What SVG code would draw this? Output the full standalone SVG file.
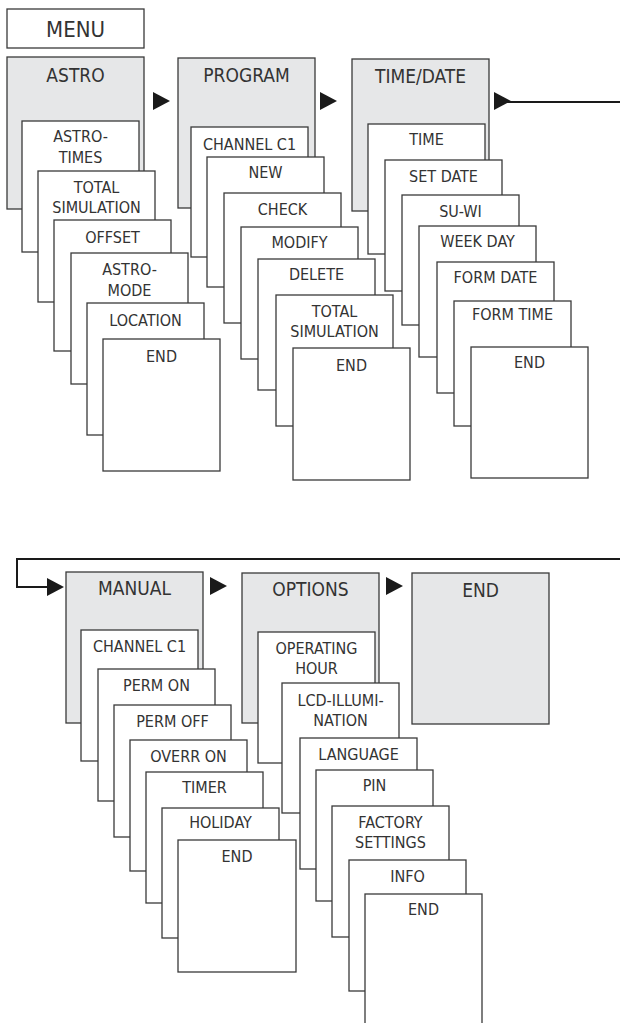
<svg xmlns="http://www.w3.org/2000/svg" width="620" height="1023" viewBox="0 0 620 1023">
<style>
.hd{fill:#e6e7e8;stroke:#3a3a3a;stroke-width:1.3}
.it{fill:#fff;stroke:#3a3a3a;stroke-width:1.3}
text{font-family:"DejaVu Sans Condensed","Liberation Sans Narrow","Liberation Sans",sans-serif;fill:#333;text-anchor:middle}
.t{font-size:16px}
.h{font-size:19px}
.m{font-size:22px}
.ln{fill:none;stroke:#1a1a1a;stroke-width:2}
.ar{fill:#1a1a1a}
</style>
<defs>
<path id="tri" d="M0,0 L17,9 L0,18 Z"/>
</defs>
<rect width="620" height="1023" fill="#fff"/>
<g id="menu"><rect class="it" x="7" y="9" width="137" height="39"/><text class="m" x="75.5" y="37">MENU</text></g>

<g id="connectors">
<use href="#tri" class="ar" x="153" y="92"/>
<use href="#tri" class="ar" x="320" y="92"/>
<use href="#tri" class="ar" x="494" y="92"/>
<path class="ln" d="M505,102 H620"/>
<path class="ln" d="M620,559 H17 V587 H52"/>
<use href="#tri" class="ar" x="47" y="578"/>
<use href="#tri" class="ar" x="210" y="577"/>
<use href="#tri" class="ar" x="386" y="577"/>
</g>

<g id="astro">
<rect class="hd" x="7" y="57" width="137" height="152"/><text class="h" x="75.5" y="82">ASTRO</text>
<g id="astro-times"><rect class="it" x="22" y="121" width="117" height="131"/><text class="t" x="80.5" y="142">ASTRO-</text><text class="t" x="80.5" y="163">TIMES</text></g>
<g id="astro-totalsim"><rect class="it" x="38" y="171" width="117" height="131"/><text class="t" x="96.5" y="193">TOTAL</text><text class="t" x="96.5" y="213">SIMULATION</text></g>
<g id="astro-offset"><rect class="it" x="54" y="220" width="117" height="131"/><text class="t" x="112.5" y="243">OFFSET</text></g>
<g id="astro-mode"><rect class="it" x="71" y="253" width="117" height="131"/><text class="t" x="129.5" y="275">ASTRO-</text><text class="t" x="129.5" y="296">MODE</text></g>
<g id="astro-location"><rect class="it" x="87" y="303" width="117" height="132"/><text class="t" x="145.5" y="326">LOCATION</text></g>
<g id="astro-end"><rect class="it" x="103" y="339" width="117" height="132"/><text class="t" x="161.5" y="362">END</text></g>
</g>

<g id="program">
<rect class="hd" x="178" y="58" width="137" height="150"/><text class="h" x="246.5" y="82">PROGRAM</text>
<g id="prog-channel"><rect class="it" x="191" y="127" width="117" height="130"/><text class="t" x="249.5" y="150">CHANNEL C1</text></g>
<g id="prog-new"><rect class="it" x="207" y="157" width="117" height="130"/><text class="t" x="265.5" y="178">NEW</text></g>
<g id="prog-check"><rect class="it" x="224" y="193" width="117" height="130"/><text class="t" x="282.5" y="215">CHECK</text></g>
<g id="prog-modify"><rect class="it" x="241" y="227" width="117" height="132"/><text class="t" x="299.5" y="248">MODIFY</text></g>
<g id="prog-delete"><rect class="it" x="258" y="259" width="117" height="131"/><text class="t" x="316.5" y="280">DELETE</text></g>
<g id="prog-totalsim"><rect class="it" x="276" y="295" width="117" height="131"/><text class="t" x="334.5" y="317">TOTAL</text><text class="t" x="334.5" y="337">SIMULATION</text></g>
<g id="prog-end"><rect class="it" x="293" y="348" width="117" height="132"/><text class="t" x="351.5" y="371">END</text></g>
</g>

<g id="timedate">
<rect class="hd" x="352" y="59" width="137" height="152"/><text class="h" x="420.5" y="83">TIME/DATE</text>
<g id="td-time"><rect class="it" x="368" y="124" width="117" height="130"/><text class="t" x="426.5" y="145">TIME</text></g>
<g id="td-setdate"><rect class="it" x="385" y="160" width="117" height="131"/><text class="t" x="443.5" y="182">SET DATE</text></g>
<g id="td-suwi"><rect class="it" x="402" y="195" width="117" height="130"/><text class="t" x="460.5" y="217">SU-WI</text></g>
<g id="td-weekday"><rect class="it" x="419" y="226" width="117" height="131"/><text class="t" x="477.5" y="247">WEEK DAY</text></g>
<g id="td-formdate"><rect class="it" x="437" y="262" width="117" height="131"/><text class="t" x="495.5" y="283">FORM DATE</text></g>
<g id="td-formtime"><rect class="it" x="454" y="301" width="117" height="125"/><text class="t" x="512.5" y="320">FORM TIME</text></g>
<g id="td-end"><rect class="it" x="471" y="347" width="117" height="131"/><text class="t" x="529.5" y="368">END</text></g>
</g>

<g id="manual">
<rect class="hd" x="66" y="572" width="137" height="151"/><text class="h" x="134.5" y="595">MANUAL</text>
<g id="man-channel"><rect class="it" x="81" y="630" width="117" height="131"/><text class="t" x="139.5" y="652">CHANNEL C1</text></g>
<g id="man-permon"><rect class="it" x="98" y="669" width="117" height="132"/><text class="t" x="156.5" y="691">PERM ON</text></g>
<g id="man-permoff"><rect class="it" x="114" y="705" width="117" height="132"/><text class="t" x="172.5" y="727">PERM OFF</text></g>
<g id="man-overr"><rect class="it" x="130" y="740" width="117" height="131"/><text class="t" x="188.5" y="762">OVERR ON</text></g>
<g id="man-timer"><rect class="it" x="146" y="772" width="117" height="131"/><text class="t" x="204.5" y="793">TIMER</text></g>
<g id="man-holiday"><rect class="it" x="162" y="808" width="117" height="130"/><text class="t" x="220.5" y="828">HOLIDAY</text></g>
<g id="man-end"><rect class="it" x="178" y="840" width="118" height="132"/><text class="t" x="237" y="862">END</text></g>
</g>

<g id="options">
<rect class="hd" x="242" y="573" width="137" height="150"/><text class="h" x="310.5" y="596">OPTIONS</text>
<g id="opt-operating"><rect class="it" x="258" y="632" width="117" height="131"/><text class="t" x="316.5" y="654">OPERATING</text><text class="t" x="316.5" y="674">HOUR</text></g>
<g id="opt-lcd"><rect class="it" x="282" y="683" width="117" height="130"/><text class="t" x="340.5" y="706">LCD-ILLUMI-</text><text class="t" x="340.5" y="726">NATION</text></g>
<g id="opt-language"><rect class="it" x="300" y="738" width="117" height="131"/><text class="t" x="358.5" y="760">LANGUAGE</text></g>
<g id="opt-pin"><rect class="it" x="316" y="770" width="117" height="131"/><text class="t" x="374.5" y="791">PIN</text></g>
<g id="opt-factory"><rect class="it" x="332" y="806" width="117" height="131"/><text class="t" x="390.5" y="828">FACTORY</text><text class="t" x="390.5" y="848">SETTINGS</text></g>
<g id="opt-info"><rect class="it" x="349" y="860" width="117" height="131"/><text class="t" x="407.5" y="882">INFO</text></g>
<g id="opt-end"><rect class="it" x="365" y="894" width="117" height="140"/><text class="t" x="423.5" y="915">END</text></g>
</g>

<g id="end-final">
<rect class="hd" x="412" y="573" width="137" height="151"/><text class="h" x="480.5" y="597">END</text>
</g>
</svg>
